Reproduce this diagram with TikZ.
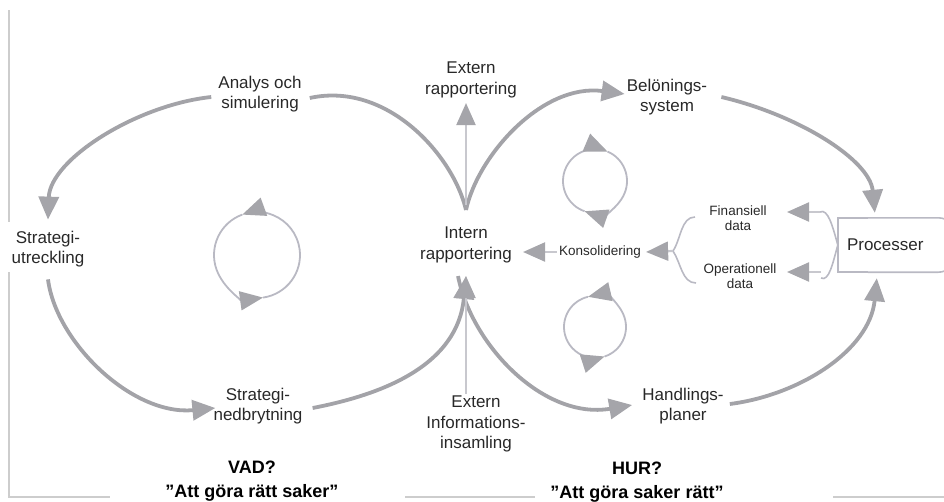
\documentclass[tikz,border=0pt]{standalone}
\usepackage{fontspec}
\setmainfont{Liberation Sans}
\usetikzlibrary{arrows.meta}
\definecolor{loopgray}{RGB}{163,163,168}
\definecolor{cycgray}{RGB}{185,185,195}
\definecolor{thingray}{RGB}{200,200,206}
\definecolor{headgray}{RGB}{165,165,170}
\definecolor{txtgray}{RGB}{40,40,40}
\definecolor{framegray}{RGB}{205,205,205}
\tikzset{
  lbl/.style={align=center,font=\fontsize{17}{20.5}\selectfont,text=txtgray,inner sep=2pt},
  smalllbl/.style={align=center,font=\fontsize{13.5}{15.5}\selectfont,text=txtgray,inner sep=2pt},
  headline/.style={align=center,font=\fontsize{18}{24}\selectfont\bfseries,text=black,inner sep=0pt},
  bigloop/.style={draw=loopgray,line width=3.8pt,
    -{Triangle[length=23pt,width=20pt,color=headgray]}},
  plainloop/.style={draw=loopgray,line width=3.8pt},
  thinarrow/.style={draw=thingray,line width=2.2pt,
    -{Triangle[length=22pt,width=19pt,color=headgray]}},
  cyc/.style={draw=cycgray,line width=1.8pt,
    -{Triangle[length=23pt,width=19pt,color=headgray]}},
  brace/.style={draw=cycgray,line width=1.6pt},
  frame/.style={draw=framegray,line width=2pt},
}
\begin{document}
\begin{tikzpicture}[x=1pt,y=1pt]
  \useasboundingbox (0,0) rectangle (944,-501);
  % frame
  \draw[frame] (9,-10) -- (9,-222);
  \draw[frame] (9,-272) -- (9,-497) -- (110,-497);
  \draw[frame] (405,-497) -- (535,-497);
  \draw[frame] (833,-497) -- (944,-497);
  % labels
  \node[lbl] (analys) at (260,-94) {Analys och\\simulering};
  \node[lbl] (extern) at (471,-80) {Extern\\rapportering};
  \node[lbl] (belon) at (667,-97) {Belönings-\\system};
  \node[lbl] (strategi) at (48,-249) {Strategi-\\utreckling};
  \node[lbl] (intern) at (466,-245) {Intern\\rapportering};
  \node[smalllbl] (konsol) at (600,-252) {Konsolidering};
  \node[smalllbl] (finans) at (738,-218) {Finansiell\\data};
  \node[smalllbl] (operat) at (740,-276) {Operationell\\data};
  \node[lbl,text width=100pt,align=left,inner xsep=9pt,minimum height=54pt] (proc) at (897,-245) {Processer};
  \node[lbl] (nedbryt) at (258,-406) {Strategi-\\nedbrytning};
  \node[lbl] (insaml) at (476,-424) {Extern\\Informations-\\insamling};
  \node[lbl] (handling) at (683,-406) {Handlings-\\planer};
  \node[headline] (vad) at (252,-481) {VAD?\\"Att göra rätt saker"};
  \node[headline] (hur) at (637,-482) {HUR?\\"Att göra saker rätt"};
  % box round Processer
  \draw[brace] ([xshift=30pt]proc.north west) -- (proc.north west) -- (proc.south west) -- ([xshift=30pt]proc.south west);
  \draw[brace,rounded corners=18pt] ([xshift=30pt]proc.north west) -- (proc.north east) -- (proc.south east) -- ([xshift=30pt]proc.south west);
  % cusps of the figure eight
  \coordinate (top) at ([yshift=15pt]intern.north);
  \coordinate (bot) at ([yshift=-11pt]intern.south);
  % left loop
  \draw[bigloop] ([xshift=-5pt,yshift=-3pt]analys.west) .. controls +(-75,-8) and +(2,60) .. ([yshift=9pt]strategi.north);
  \draw[bigloop] ([yshift=-10pt]strategi.south) .. controls +(8,-63) and +(-83,-8) .. ([xshift=4pt,yshift=-2pt]nedbryt.west);
  \draw[bigloop] ([xshift=8pt,yshift=-2pt]nedbryt.east) .. controls +(62,12) and +(-9,-93) .. (bot);
  \draw[plainloop] (top) .. controls +(-13,55) and +(77,17) .. ([xshift=6pt,yshift=-4pt]analys.east);
  % right loop
  \draw[bigloop] (top) .. controls +(12,55) and +(-82,11) .. ([xshift=0pt,yshift=3pt]belon.west);
  \draw[bigloop] ([xshift=-8pt]bot) .. controls +(14,-70) and +(-88,-15) .. ([xshift=-8pt,yshift=1pt]handling.west);
  \draw[bigloop] ([xshift=12pt]belon.east) .. controls +(77,-18) and +(-5,53) .. ([xshift=37pt,yshift=5pt]proc.north west);
  \draw[bigloop] ([xshift=4pt,yshift=2pt]handling.east) .. controls +(70,9) and +(-7,-72) .. ([xshift=39pt,yshift=-6pt]proc.south west);
  % thin arrows
  \draw[thinarrow] ([yshift=5pt]top) -- ([yshift=-3pt]top |- extern.south);
  \draw[thinarrow] (insaml.north -| bot) -- (bot);
  \draw[thinarrow] (konsol.west) -- ([xshift=9pt]konsol.west -| intern.east);
  % braces
  \coordinate (lbrace) at (673,-251);
  \coordinate (lbtop) at (695,-217);
  \coordinate (lbbot) at (696,-283);
  \draw[brace] (lbtop) .. controls +(-14,0) and +(8,12) .. (lbrace) .. controls +(8,-12) and +(-14,0) .. (lbbot);
  \draw[thinarrow] (lbrace) -- ([xshift=3pt]konsol.east);
  \coordinate (rbtop) at (820,-212);
  \coordinate (rbbot) at (821,-278);
  \draw[brace] (rbtop) .. controls +(8,4) and +(-5,18) .. (proc.west) .. controls +(-5,-18) and +(8,-4) .. (rbbot);
  \draw[thinarrow] (rbtop) -- ([xshift=-33pt]rbtop);
  \draw[thinarrow] ([yshift=6pt]rbbot) -- ([xshift=-34pt,yshift=6pt]rbbot);
  % small cycles
  \coordinate (cycL) at (257,-255);
  \coordinate (cycU) at (595,-181);
  \coordinate (cycD) at (595,-327);
  \foreach \c/\r/\sa/\ma/\ea in {cycL/43/-82/110/278, cycU/32/251/67/-109, cycD/31/-72/103/288} {
    \draw[cyc] (\c) ++(\sa:\r) arc[start angle=\sa,end angle=\ma,radius=\r];
    \draw[cyc] (\c) ++(\ma:\r) arc[start angle=\ma,end angle=\ea,radius=\r];
  }
\end{tikzpicture}
\end{document}
